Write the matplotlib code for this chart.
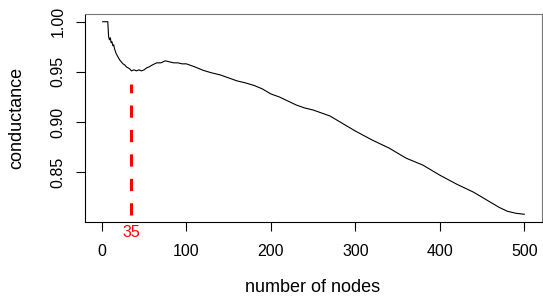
import matplotlib
matplotlib.use("Agg")
import matplotlib.pyplot as plt

plt.rcParams['font.family'] = ['Liberation Sans', 'DejaVu Sans']

nodes = [1, 7, 8, 9, 10, 11, 12, 13, 14, 15, 17, 19, 21, 23, 25, 27, 29, 31, 33, 35,
         38, 41, 44, 47, 50, 53, 56, 60, 65, 70, 75, 80, 85, 90, 95, 100, 110, 120,
         130, 140, 150, 160, 170, 180, 190, 200, 210, 220, 230, 240, 250, 260, 270,
         280, 290, 300, 320, 340, 360, 380, 400, 420, 440, 460, 470, 480, 490, 500]
conductance = [1.0, 1.0, 0.985, 0.982, 0.984, 0.979, 0.980, 0.976, 0.977, 0.973,
               0.968, 0.965, 0.962, 0.960, 0.958, 0.957, 0.955, 0.954, 0.953, 0.951,
               0.952, 0.951, 0.952, 0.951, 0.952, 0.954, 0.955, 0.957, 0.959, 0.959,
               0.961, 0.960, 0.959, 0.959, 0.958, 0.958, 0.955, 0.9515, 0.949, 0.947,
               0.944, 0.941, 0.939, 0.9365, 0.933, 0.928, 0.925, 0.921, 0.917, 0.914,
               0.912, 0.909, 0.906, 0.901, 0.896, 0.891, 0.882, 0.874, 0.864, 0.857,
               0.847, 0.838, 0.830, 0.820, 0.815, 0.811, 0.809, 0.808]
best_k = 35
best_line_range = [0.807, 0.938]
xticks = [0, 100, 200, 300, 400, 500]
yticks = [0.85, 0.90, 0.95, 1.00]

FS_TICK = 11.5
FS_LAB = 13

fig = plt.figure(figsize=(5.43, 3.01), dpi=100)
ax = fig.add_axes([85/543, 1 - 222/301, (542-85)/543, (222-14)/301])

ax.plot(nodes, conductance, color='black', lw=0.8)
ax.plot([best_k, best_k], best_line_range, color='red', lw=2.2,
        dashes=(4, 4), solid_capstyle='butt', dash_capstyle='butt')

ax.set_xlim(-19.96, 520.96)
ax.set_ylim(0.8003, 1.0077)
ax.set_xticks(xticks)
ax.set_xticklabels([str(t) for t in xticks])
ax.set_yticks(yticks)
ax.set_yticklabels([f"{t:.2f}" for t in yticks], rotation=90, va='center')

ax.tick_params(axis='both', length=6.5, width=0.8, labelsize=FS_TICK, color='black')
ax.tick_params(axis='x', pad=9.5)
ax.tick_params(axis='y', pad=7.5)

for s in ['left', 'bottom']:
    ax.spines[s].set_color('black')
    ax.spines[s].set_linewidth(0.8)
for s in ['top', 'right']:
    ax.spines[s].set_color('#777777')
    ax.spines[s].set_linewidth(0.8)

ax.text(best_k, -0.05, str(best_k), color='red', fontsize=FS_TICK,
        transform=ax.get_xaxis_transform(), ha='center', va='center')

fig.text(17/543, 1 - 118/301, 'conductance', rotation=90, fontsize=FS_LAB,
         ha='center', va='center')
fig.text(313/543, 1 - 288/301, 'number of nodes', fontsize=FS_LAB,
         ha='center', va='center')

fig.savefig('out.png', dpi=100)
